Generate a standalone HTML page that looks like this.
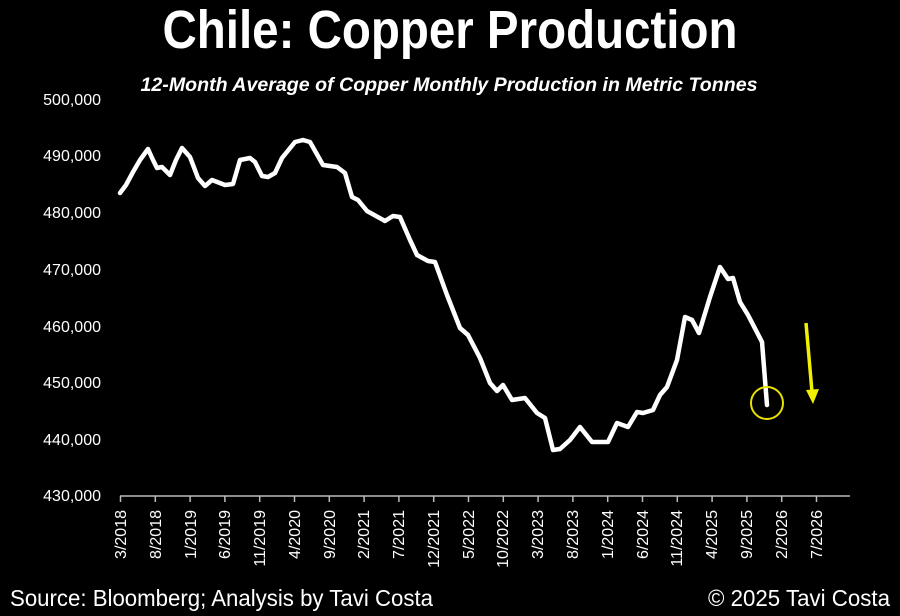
<!DOCTYPE html>
<html><head><meta charset="utf-8"><style>
html,body{margin:0;padding:0;background:#000;}
svg{display:block;}
text{font-family:"Liberation Sans",sans-serif;fill:#fff;}
</style></head><body>
<svg width="900" height="616" viewBox="0 0 900 616" xmlns="http://www.w3.org/2000/svg">
<rect width="900" height="616" fill="#000"/>
<text x="450" y="48" font-size="54" font-weight="bold" text-anchor="middle" textLength="575" lengthAdjust="spacingAndGlyphs">Chile: Copper Production</text>
<text x="449" y="91" font-size="19" font-weight="bold" font-style="italic" text-anchor="middle" textLength="617" lengthAdjust="spacingAndGlyphs">12-Month Average of Copper Monthly Production in Metric Tonnes</text>
<g font-size="16" text-anchor="end">
<text x="101" y="105">500,000</text>
<text x="101" y="161">490,000</text>
<text x="101" y="218">480,000</text>
<text x="101" y="275">470,000</text>
<text x="101" y="332">460,000</text>
<text x="101" y="388">450,000</text>
<text x="101" y="445">440,000</text>
<text x="101" y="501">430,000</text>
</g>
<line x1="120" y1="496" x2="850" y2="496" stroke="#bbb" stroke-width="1.5"/>
<g stroke="#bbb" stroke-width="1.5">
<path d="M120.5 496v6M155.3 496v6M190.1 496v6M224.9 496v6M259.7 496v6M294.5 496v6M329.3 496v6M364.1 496v6M398.9 496v6M433.7 496v6M468.5 496v6M503.3 496v6M538.1 496v6M572.9 496v6M607.7 496v6M642.5 496v6M677.3 496v6M712.1 496v6M746.9 496v6M781.7 496v6M816.5 496v6"/>
</g>
<g font-size="16" text-anchor="end">
<text transform="translate(126,510) rotate(-90)">3/2018</text>
<text transform="translate(161,510) rotate(-90)">8/2018</text>
<text transform="translate(196,510) rotate(-90)">1/2019</text>
<text transform="translate(230,510) rotate(-90)">6/2019</text>
<text transform="translate(265,510) rotate(-90)">11/2019</text>
<text transform="translate(300,510) rotate(-90)">4/2020</text>
<text transform="translate(335,510) rotate(-90)">9/2020</text>
<text transform="translate(369,510) rotate(-90)">2/2021</text>
<text transform="translate(404,510) rotate(-90)">7/2021</text>
<text transform="translate(439,510) rotate(-90)">12/2021</text>
<text transform="translate(474,510) rotate(-90)">5/2022</text>
<text transform="translate(508,510) rotate(-90)">10/2022</text>
<text transform="translate(543,510) rotate(-90)">3/2023</text>
<text transform="translate(578,510) rotate(-90)">8/2023</text>
<text transform="translate(613,510) rotate(-90)">1/2024</text>
<text transform="translate(648,510) rotate(-90)">6/2024</text>
<text transform="translate(682,510) rotate(-90)">11/2024</text>
<text transform="translate(717,510) rotate(-90)">4/2025</text>
<text transform="translate(752,510) rotate(-90)">9/2025</text>
<text transform="translate(787,510) rotate(-90)">2/2026</text>
<text transform="translate(822,510) rotate(-90)">7/2026</text>
</g>
<polyline fill="none" stroke="#fff" stroke-width="4.5" stroke-linejoin="round" stroke-linecap="round" points="120,193 126,185 133,172 140,160 148,149 153,160 157,168 162,167 170,175 176,160 182,148 190,157 198,178 205,186 212,180 225,185 233,184 240,160 250,158 255,162 262,176 268,177 275,173 282,158 295,142 303,140 310,142 323,165 337,167 345,173 352,197 358,200 367,211 385,221 393,216 400,217 410,240 417,255 428,261 435,262 447,295 460,328 468,335 480,358 490,383 497,391 503,385 512,400 525,398 537,413 545,418 553,450 560,449 570,440 580,427 592,442 608,442 617,423 628,427 637,412 643,413 653,410 660,395 667,387 677,360 685,317 692,320 699,333 710,297 720,267 728,279 733,278 740,302 748,315 762,342 767,405"/>
<circle cx="767" cy="403" r="16" fill="none" stroke="#e8e000" stroke-width="2"/>
<line x1="806" y1="323" x2="812" y2="392" stroke="#f0f000" stroke-width="3.5"/>
<polygon points="806,390 819,389 813,404" fill="#f0f000"/>
<text x="10" y="606" font-size="23" textLength="423" lengthAdjust="spacingAndGlyphs">Source: Bloomberg; Analysis by Tavi Costa</text>
<text x="890" y="606" font-size="23" text-anchor="end" textLength="182" lengthAdjust="spacingAndGlyphs">© 2025 Tavi Costa</text>
</svg>
</body></html>
